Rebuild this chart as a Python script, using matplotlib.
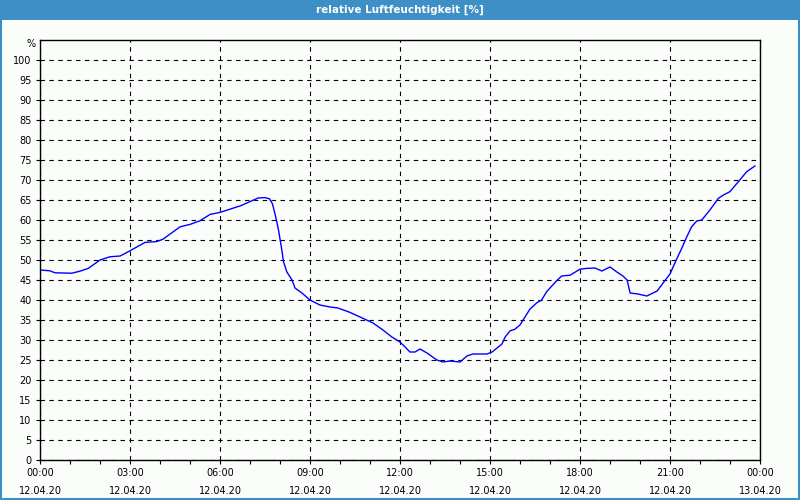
import matplotlib.pyplot as plt
from matplotlib.patches import Rectangle

# Data (hours since 12.04.20 00:00, relative humidity in %)
hours = [0, 0.33, 0.5, 1.06, 1.33, 1.61, 2.0, 2.33, 2.67, 3.0, 3.5, 3.89, 4.1,
         4.67, 5.0, 5.33, 5.67, 6.0, 6.33, 6.7, 7.0, 7.27, 7.5, 7.65, 7.75,
         7.85, 7.95, 8.05, 8.12, 8.23, 8.4, 8.5, 8.73, 9.0, 9.33, 9.67, 9.93, 10.3,
         10.67, 11.1, 11.43, 11.73, 12.0, 12.17, 12.33, 12.5, 12.67, 12.9,
         13.23, 13.43, 13.67, 14.0, 14.23, 14.43, 14.9, 15.07, 15.4, 15.5,
         15.67, 15.83, 16.0, 16.17, 16.33, 16.56, 16.72, 16.89, 17.22, 17.39,
         17.67, 18.0, 18.22, 18.5, 18.73, 19.0, 19.23, 19.43, 19.57, 19.67,
         19.93, 20.23, 20.57, 20.77, 21.0, 21.22, 21.39, 21.56, 21.72, 21.89,
         22.06, 22.33, 22.61, 22.78, 23.0, 23.28, 23.56, 23.83]
humidity = [47.5, 47.3, 46.8, 46.7, 47.2, 47.9, 50.0, 50.8, 51.0, 52.3, 54.4, 54.6, 55.2,
            58.3, 58.9, 59.8, 61.4, 61.9, 62.7, 63.6, 64.6, 65.5, 65.6, 65.3, 64.0,
            61.0, 57.5, 53.0, 49.5, 47.0, 45.0, 43.0, 41.75, 40.0, 38.75, 38.25, 38.0, 37.0,
            35.75, 34.25, 32.5, 30.75, 29.5, 28.25, 27.0, 27.0, 27.75, 26.75,
            25.0, 24.5, 24.75, 24.5, 26.0, 26.5, 26.5, 27.0, 29.0, 30.7,
            32.3, 32.7, 33.75, 35.8, 37.7, 39.3, 40.0, 42.1, 44.8, 46.0,
            46.2, 47.7, 47.9, 48.0, 47.25, 48.25, 47.0, 46.0, 45.0, 41.75,
            41.5, 41.0, 42.25, 44.25, 46.5, 50.2, 52.9, 55.8, 58.3, 59.75,
            60.0, 62.5, 65.4, 66.25, 67.1, 69.6, 72.1, 73.5]

xticks = [0, 3, 6, 9, 12, 15, 18, 21, 24]
xlabels = ['00:00\n12.04.20', '03:00\n12.04.20', '06:00\n12.04.20', '09:00\n12.04.20',
           '12:00\n12.04.20', '15:00\n12.04.20', '18:00\n12.04.20', '21:00\n12.04.20',
           '00:00\n13.04.20']
yticks = list(range(0, 101, 5))

bar_blue = '#3d8fc6'

fig = plt.figure(figsize=(8, 5), dpi=100, facecolor='#fbfdfb')

# title bar and frame
fig.patches.append(Rectangle((0, 0.96), 1, 0.04, transform=fig.transFigure,
                             facecolor=bar_blue, edgecolor='none', zorder=0))
fig.patches.append(Rectangle((0.001, 0.002), 0.998, 0.996, transform=fig.transFigure,
                             facecolor='none', edgecolor=bar_blue, lw=1.5, zorder=1))
fig.text(0.5, 0.981, 'relative Luftfeuchtigkeit [%]', color='white',
         fontsize=7.5, fontweight='bold', ha='center', va='center')

ax = fig.add_axes([0.05, 0.08, 0.9, 0.84])
ax.set_facecolor('#fbfdfb')
ax.plot(hours, humidity, color='#0000ff', lw=1)

ax.set_xlim(0, 24)
ax.set_ylim(0, 105)
ax.set_xticks(xticks)
ax.set_xticklabels(xlabels, linespacing=1.9)
ax.set_xticks(range(0, 25), minor=True)
ax.set_yticks(yticks)

ax.tick_params(axis='both', labelsize=7, length=3, width=0.8, color='black', pad=3)
ax.tick_params(axis='x', which='minor', length=3, width=0.8)
ax.grid(True, which='major', color='black', lw=0.8, linestyle=(0, (4, 4)))

for s in ax.spines.values():
    s.set_linewidth(1)
    s.set_color('black')

ax.text(-0.006, 104, '%', transform=ax.get_yaxis_transform(), ha='right',
        va='center', fontsize=7)

fig.savefig('out.png', dpi=100, facecolor=fig.get_facecolor())
